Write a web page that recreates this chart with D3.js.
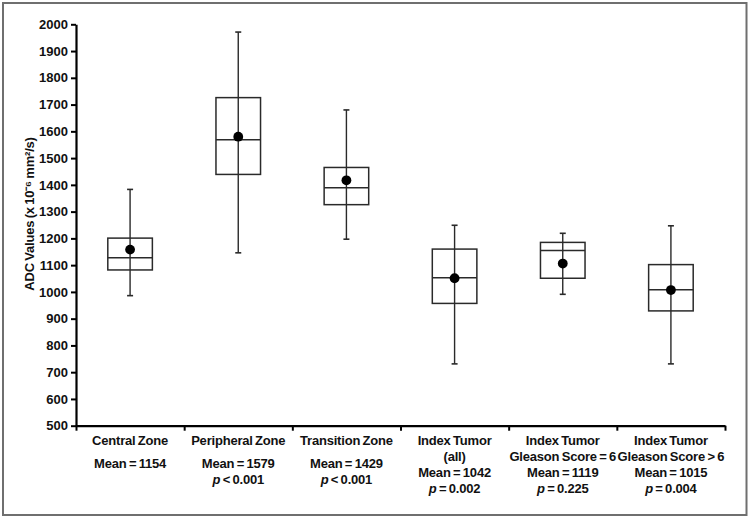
<!DOCTYPE html>
<html>
<head>
<meta charset="utf-8">
<script src="https://cdn.jsdelivr.net/npm/d3@7"></script>
<style>
  html, body { margin: 0; padding: 0; background: #fff; }
  svg text { font-family: "Liberation Sans", Arial, Helvetica, sans-serif; font-weight: bold; fill: #111; }
  svg text.lbl { word-spacing: -1px; letter-spacing: -0.2px; }
</style>
</head>
<body>
<svg id="chart" width="750" height="517"></svg>
<script>
// ---- data ----
const categories = ["Central Zone", "Peripheral Zone", "Transition Zone",
  "Index Tumor (all)", "Index Tumor Gleason Score = 6", "Index Tumor Gleason Score > 6"];
const nameLines = [["Central Zone"], ["Peripheral Zone"], ["Transition Zone"],
  ["Index Tumor", "(all)"], ["Index Tumor", "Gleason Score = 6"], ["Index Tumor", "Gleason Score > 6"]];
const whiskerLow  = [986, 1146, 1197, 731, 991, 731];
const boxLow      = [1082, 1439, 1326, 957, 1051, 929];
const medians     = [1128, 1569, 1389, 1053, 1155, 1008];
const boxHigh     = [1201, 1726, 1465, 1160, 1185, 1102];
const whiskerHigh = [1383, 1971, 1680, 1249, 1219, 1247];
const meanDots    = [1158, 1580, 1417, 1051, 1106, 1007];
const meanLabels  = ["1154", "1579", "1429", "1042", "1119", "1015"];
const pLabels     = [null, "< 0.001", "< 0.001", "= 0.002", "= 0.225", "= 0.004"];
const yTicks      = d3.range(500, 2001, 100);
const yLabel      = "ADC Values (x 10\u207B\u2076 mm\u00B2/s)";

// ---- layout ----
const svg = d3.select("#chart");
const plotLeft = 76, plotRight = 725, plotTop = 24.3, plotBottom = 425.7;

svg.append("rect").attr("x", 3).attr("y", 3).attr("width", 743.5).attr("height", 512)
  .attr("fill", "none").attr("stroke", "#6f6f6f").attr("stroke-width", 2);

const y = d3.scaleLinear().domain([500, 2000]).range([plotBottom, plotTop]);
const x = d3.scaleBand().domain(categories).range([plotLeft, plotRight]).padding(0);
const xb = d3.scaleLinear().domain([0, categories.length]).range([plotLeft, plotRight]);

// y axis
const yAxis = svg.append("g").attr("transform", `translate(${plotLeft},0)`)
  .call(d3.axisLeft(y).tickValues(yTicks).tickSize(5).tickSizeOuter(0).tickPadding(3).tickFormat(d3.format("d")));
yAxis.select(".domain").attr("stroke", "#000").attr("stroke-width", 2.2);
yAxis.selectAll(".tick line").attr("stroke", "#000").attr("stroke-width", 2);
yAxis.selectAll(".tick text").style("font-size", "13px").style("font-weight", "bold")
  .style("font-family", "'Liberation Sans', Arial, sans-serif").attr("fill", "#111");

// x axis (ticks at category boundaries)
const xAxis = svg.append("g").attr("transform", `translate(0,${plotBottom})`)
  .call(d3.axisBottom(xb).tickValues(d3.range(0, categories.length + 1)).tickSize(5).tickSizeOuter(0).tickFormat(""));
xAxis.select(".domain").attr("stroke", "#000").attr("stroke-width", 2.2);
xAxis.selectAll(".tick line").attr("stroke", "#000").attr("stroke-width", 2);

// y axis label
svg.append("text")
  .attr("class", "lbl")
  .attr("transform", `translate(34,214) rotate(-90)`)
  .attr("text-anchor", "middle")
  .style("font-size", "13px")
  .text(yLabel);

// boxes
const bw = x.bandwidth() * 0.412;
const capW = 6;
const g = svg.append("g");
categories.forEach((c, i) => {
  const cx = x(c) + x.bandwidth() / 2;
  const stroke = "#2a2a2a";
  g.append("line").attr("x1", cx).attr("x2", cx).attr("y1", y(whiskerLow[i])).attr("y2", y(whiskerHigh[i]))
    .attr("stroke", stroke).attr("stroke-width", 1.4);
  [whiskerLow[i], whiskerHigh[i]].forEach(v => {
    g.append("line").attr("x1", cx - capW / 2).attr("x2", cx + capW / 2).attr("y1", y(v)).attr("y2", y(v))
      .attr("stroke", stroke).attr("stroke-width", 1.6);
  });
  g.append("rect").attr("x", cx - bw / 2).attr("width", bw)
    .attr("y", y(boxHigh[i])).attr("height", y(boxLow[i]) - y(boxHigh[i]))
    .attr("fill", "none").attr("stroke", stroke).attr("stroke-width", 1.5);
  g.append("line").attr("x1", cx - bw / 2).attr("x2", cx + bw / 2).attr("y1", y(medians[i])).attr("y2", y(medians[i]))
    .attr("stroke", stroke).attr("stroke-width", 1.5);
  g.append("circle").attr("cx", cx).attr("cy", y(meanDots[i])).attr("r", 4.9).attr("fill", "#000");
});

// category labels
categories.forEach((c, i) => {
  const cx = x(c) + x.bandwidth() / 2;
  const lines = nameLines[i];
  const t = svg.append("g").style("font-size", "13px");
  const add = (yy, s) => t.append("text").attr("class", "lbl").attr("x", cx).attr("y", yy)
    .attr("text-anchor", "middle").text(s);
  let yy;
  if (lines.length === 1) {
    add(445, lines[0]);
    add(468, "Mean = " + meanLabels[i]);
    yy = 484;
  } else {
    add(445, lines[0]);
    add(461, lines[1]);
    add(477, "Mean = " + meanLabels[i]);
    yy = 493;
  }
  if (pLabels[i]) {
    const pt = t.append("text").attr("class", "lbl").attr("x", cx).attr("y", yy).attr("text-anchor", "middle");
    pt.append("tspan").style("font-style", "italic").text("p");
    pt.append("tspan").text(" " + pLabels[i]);
  }
});
</script>
</body>
</html>
